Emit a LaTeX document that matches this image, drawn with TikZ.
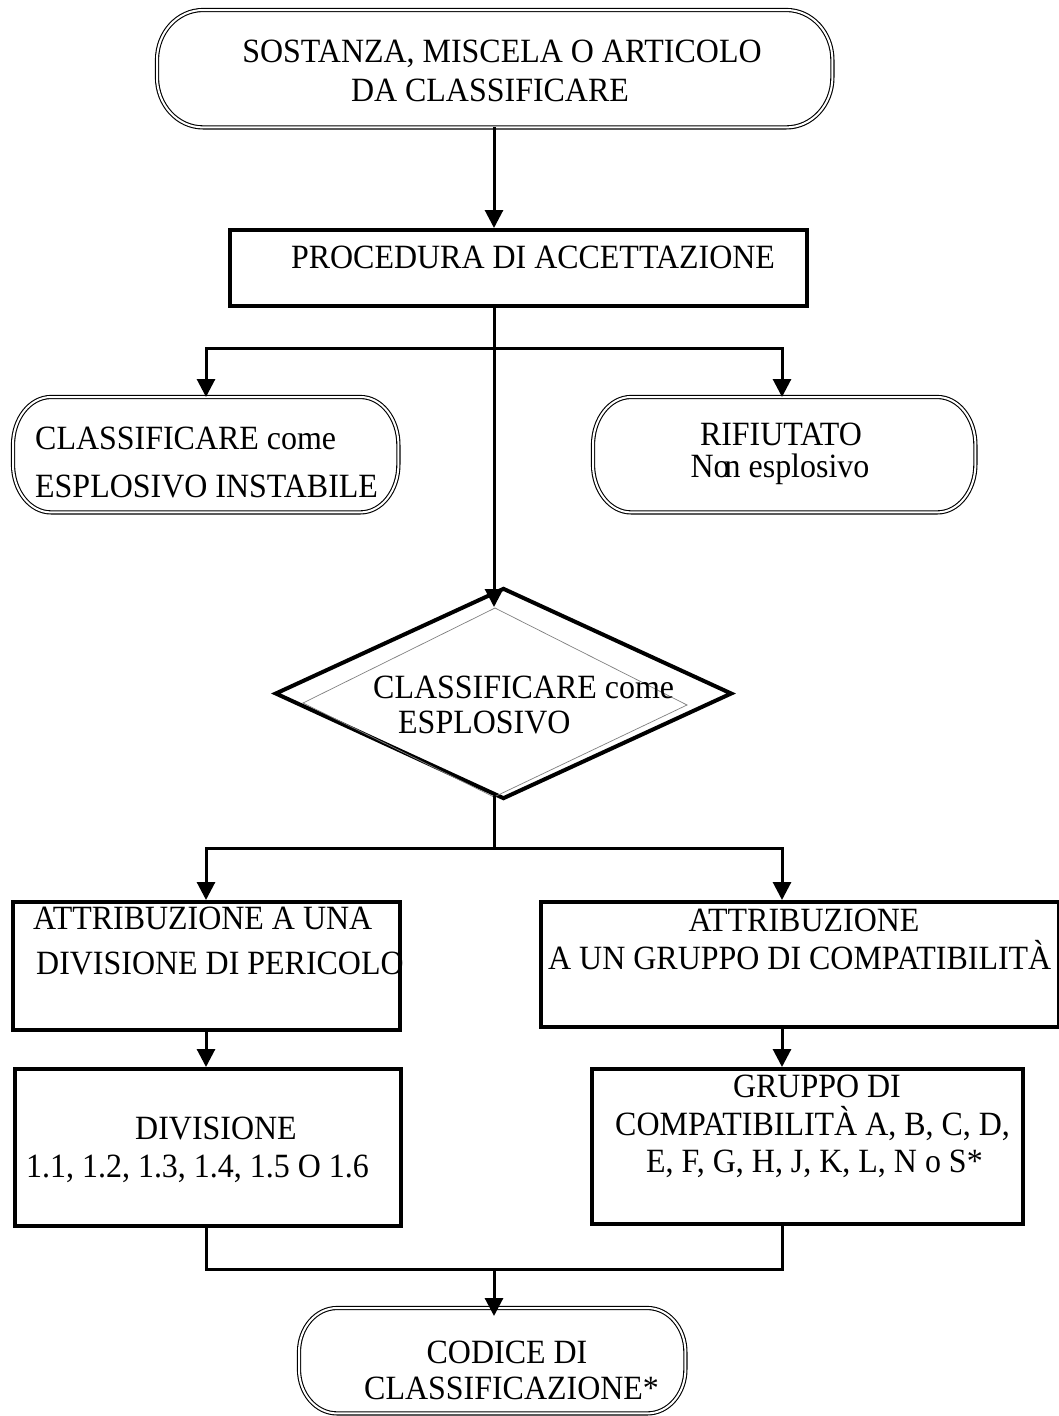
\documentclass[tikz,border=0pt]{standalone}
\usepackage{fontspec}
\setmainfont{Liberation Serif}[FakeStretch=0.94]
\usetikzlibrary{arrows.meta,shapes.geometric}
\tikzset{
  termnode/.style={inner sep=0pt, anchor=north west},
  termline/.style={draw, double, double distance=2pt, line width=1.1pt},
  stepbox/.style={draw, line width=4pt, inner sep=0pt, anchor=north west},
  decbox/.style={diamond, draw, line width=4pt, inner sep=0pt},
  conn/.style={line width=3pt},
  arr/.style={conn, -{Triangle[width=18pt,length=18pt]}},
  txt/.style={inner sep=0pt, anchor=base},
  txtl/.style={inner sep=0pt, anchor=base west},
}
% outline of a terminator node #1 with elliptic ends (x radius #2, y radius #3)
\newcommand\termoutline[3]{%
  \path[termline] ([xshift=#2]#1.north west) -- ([xshift=-#2]#1.north east)
    arc[start angle=90,end angle=0,x radius=#2,y radius=#3]
    -- ([yshift=#3]#1.south east)
    arc[start angle=0,end angle=-90,x radius=#2,y radius=#3]
    -- ([xshift=#2]#1.south west)
    arc[start angle=-90,end angle=-180,x radius=#2,y radius=#3]
    -- ([yshift=-#3]#1.north west)
    arc[start angle=180,end angle=90,x radius=#2,y radius=#3] -- cycle;}
\begin{document}
\begin{tikzpicture}[x=1pt,y=-1pt, every node/.append style={font=\fontsize{34pt}{37pt}\selectfont}]
\useasboundingbox (0,0) rectangle (1059,1416);
\fill[white] (0,0) rectangle (1059,1416);

% reference coordinates
\coordinate (xl) at (206,0);
\coordinate (xc) at (494,0);
\coordinate (xr) at (782,0);
\coordinate (b1) at (494,348);
\coordinate (dtip) at (494,607);
\coordinate (b2) at (494,848);
\coordinate (m) at (494,1269);
\coordinate (ctip) at (494,1316);

% shapes
\node[termnode, minimum width=675pt, minimum height=117pt] (T1) at (157,10) {};
\termoutline{T1}{46pt}{50pt}
\node[stepbox, minimum width=577pt, minimum height=76pt] (P) at (228,228) {};
\node[termnode, minimum width=385pt, minimum height=115pt] (L) at (13,397) {};
\termoutline{L}{38pt}{48pt}
\node[termnode, minimum width=382pt, minimum height=115pt] (R) at (593,397) {};
\termoutline{R}{38pt}{48pt}
\node[decbox, minimum width=457pt, minimum height=211pt] (D) at (503.5,693.5) {};
\draw[gray, line width=0.7pt] (495,608) -- (687,705) -- (494,797) -- (303,703) -- cycle;
\node[stepbox, minimum width=387pt, minimum height=128pt] (A1) at (11,900) {};
\node[stepbox, minimum width=518pt, minimum height=125pt] (A2) at (539,900) {};
\node[stepbox, minimum width=386pt, minimum height=157pt] (B1) at (13,1067) {};
\node[stepbox, minimum width=431pt, minimum height=155pt] (B2) at (590,1067) {};
\node[termnode, minimum width=386pt, minimum height=105pt] (C) at (299,1308) {};
\termoutline{C}{38pt}{44pt}

% texts
\node[txt] (t1a) at (502,62) {SOSTANZA, MISCELA O ARTICOLO};
\node[txt] (t1b) at (490,101) {DA CLASSIFICARE};
\node[txt] (tp) at (533,268) {PROCEDURA DI ACCETTAZIONE};
\node[txtl] (tla) at (35,449) {CLASSIFICARE come};
\node[txtl] (tlb) at (35,497) {ESPLOSIVO INSTABILE};
\node[txt] (tra) at (781,445) {RIFIUTATO};
\node[txt] (trb) at (780,477) {No\kern-5pt n esplosivo};
\node[txtl] (tda) at (373,698) {CLASSIFICARE come};
\node[txtl] (tdb) at (398,733) {ESPLOSIVO};
\node[txtl] (ta1a) at (33,929) {ATTRIBUZIONE A UNA};
\node[txtl] (ta1b) at (36,974) {DIVISIONE DI PERICOLO};
\node[txt] (ta2a) at (804,931) {ATTRIBUZIONE};
\node[txtl] (ta2b) at (548,969) {A UN GRUPPO DI COMPATIBILITÀ};
\node[txt] (tb1a) at (216,1139) {DIVISIONE};
\node[txtl] (tb1b) at (26,1177) {1.1, 1.2, 1.3, 1.4, 1.5 O 1.6};
\node[txt] (tb2a) at (817,1097) {GRUPPO DI};
\node[txtl] (tb2b) at (615,1135) {COMPATIBILITÀ A, B, C, D,};
\node[txtl] (tb2c) at (646,1172) {E, F, G, H, J, K, L, N o S*};
\node[txt] (tca) at (507,1363) {CODICE DI};
\node[txtl] (tcb) at (364,1399) {CLASSIFICAZIONE*};

% connectors
\draw[arr] (T1.south -| xc) -- (xc |- P.north);
\draw[arr] (P.south -| xc) -- (dtip);
\draw[arr] (b1) -| (xl |- L.north);
\draw[arr] (b1) -| (xr |- R.north);
\draw[conn] ([yshift=5pt]D.south -| xc) -- (b2);
\draw[arr] (b2) -| (xl |- A1.north);
\draw[arr] (b2) -| (xr |- A2.north);
\draw[arr] (A1.south -| xl) -- (xl |- B1.north);
\draw[arr] (A2.south -| xr) -- (xr |- B2.north);
\draw[conn] (B1.south -| xl) |- (m) -| (B2.south -| xr);
\draw[arr] (m) -- (ctip);
\end{tikzpicture}
\end{document}
